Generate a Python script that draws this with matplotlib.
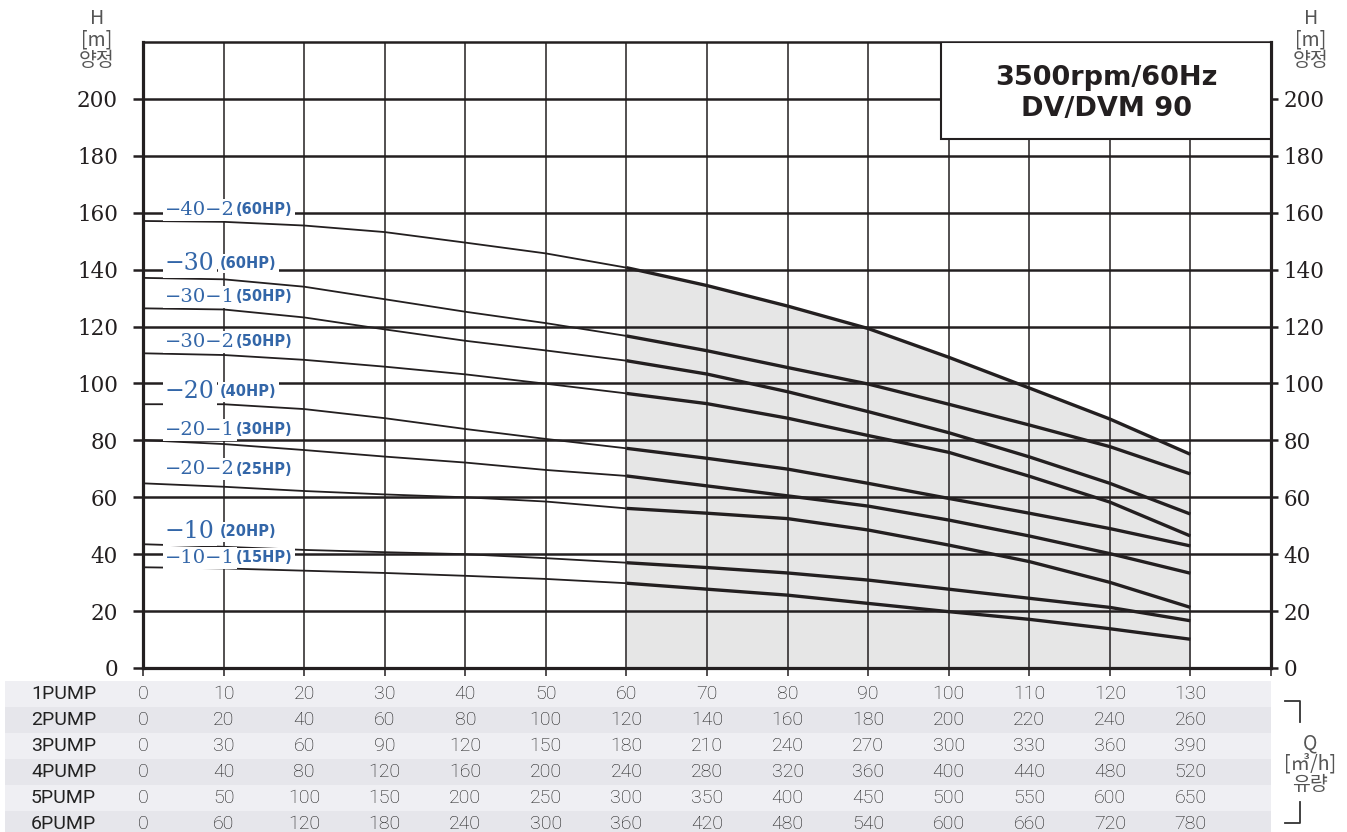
import matplotlib.pyplot as plt
import matplotlib.transforms as mtransforms
from matplotlib.patches import Rectangle
from matplotlib.lines import Line2D

# flow Q [m3/h] for one pump
q = [0, 10, 20, 30, 40, 50, 60, 70, 80, 90, 100, 110, 120, 130]

# head H [m] for each impeller set
h_40_2 = [157.1, 156.8, 155.5, 153.2, 149.5, 145.7, 140.7, 134.4, 127.2, 119.3, 109.2, 98.4, 87.5, 75.1]
h_30 = [137.1, 136.6, 134.0, 129.6, 125.2, 121.2, 116.7, 111.5, 105.6, 99.8, 92.7, 85.4, 77.8, 68.2]
h_30_1 = [126.4, 126.0, 123.2, 119.0, 115.0, 111.6, 108.0, 103.3, 97.1, 90.1, 82.7, 74.2, 64.9, 54.1]
h_30_2 = [110.6, 110.0, 108.3, 105.9, 103.2, 99.9, 96.5, 92.9, 87.8, 81.7, 75.8, 67.4, 58.3, 46.4]
h_20 = [92.7, 92.7, 91.0, 87.8, 84.0, 80.5, 77.2, 73.7, 69.9, 64.9, 59.6, 54.4, 49.0, 42.9]
h_20_1 = [80.1, 78.7, 76.6, 74.3, 72.2, 69.6, 67.5, 64.0, 60.5, 56.9, 52.0, 46.4, 40.2, 33.3]
h_20_2 = [64.9, 63.7, 62.2, 61.0, 60.0, 58.5, 56.1, 54.4, 52.5, 48.5, 43.2, 37.4, 30.1, 21.3]
h_10 = [43.5, 42.6, 41.5, 40.7, 40.0, 38.6, 37.0, 35.3, 33.4, 30.9, 27.7, 24.5, 21.3, 16.6]
h_10_1 = [35.4, 35.0, 34.2, 33.4, 32.4, 31.3, 29.8, 27.7, 25.6, 22.7, 19.8, 17.1, 13.8, 10.1]

curves = [h_40_2, h_30, h_30_1, h_30_2, h_20, h_20_1, h_20_2, h_10, h_10_1]
models = ['−40−2', '−30', '−30−1', '−30−2', '−20', '−20−1', '−20−2', '−10', '−10−1']
power = ['(60HP)', '(60HP)', '(50HP)', '(50HP)', '(40HP)', '(30HP)', '(25HP)', '(20HP)', '(15HP)']
label_y = [161.0, 142.0, 130.4, 114.6, 97.0, 83.7, 69.9, 47.8, 38.7]

pumps = ['1PUMP', '2PUMP', '3PUMP', '4PUMP', '5PUMP', '6PUMP']
q_ticks = [0, 10, 20, 30, 40, 50, 60, 70, 80, 90, 100, 110, 120, 130]
h_ticks = [0, 20, 40, 60, 80, 100, 120, 140, 160, 180, 200]

ink = '#231f20'
blue = '#3366a8'
cjk = ['Noto Sans CJK KR', 'DejaVu Sans']

fig = plt.figure(figsize=(13.47, 8.32), dpi=100)
W, H = 1347, 832
ax = fig.add_axes([143 / W, 1 - 668 / H, (1271 - 143) / W, (668 - 42) / H])
ax.set_xlim(0, 140)
ax.set_ylim(0, 220)

# operating range shading
ax.fill_between(q[6:], 0, h_40_2[6:], color='#e6e6e6', lw=0, zorder=1)

ax.set_xticks(q_ticks + [140])
ax.set_yticks(h_ticks)
ax.set_xticklabels([])
ax.xaxis.grid(True, color=ink, lw=1.1)
ax.yaxis.grid(True, color=ink, lw=1.8)
ax.set_axisbelow(False)
ax.tick_params(axis='x', direction='out', length=6, width=1.1, color=ink)
ax.tick_params(axis='y', direction='out', length=7, width=1.8, color=ink, pad=11,
               labelsize=15.5, labelcolor=ink)
for lab in ax.get_yticklabels():
    lab.set_family('DejaVu Serif')
for side in ['left', 'right', 'bottom']:
    ax.spines[side].set_linewidth(2.3)
    ax.spines[side].set_color(ink)
ax.spines['top'].set_linewidth(1.8)
ax.spines['top'].set_color(ink)

ax2 = ax.twinx()
ax2.set_ylim(0, 220)
ax2.set_yticks(h_ticks)
ax2.tick_params(axis='y', direction='out', length=5, width=1.8, color=ink, pad=4,
                labelsize=15.5, labelcolor=ink)
for lab in ax2.get_yticklabels():
    lab.set_family('DejaVu Serif')
for sp in ax2.spines.values():
    sp.set_visible(False)

# pump curves: thin outside the recommended range, thick inside it
for h in curves:
    ax.plot(q[:7], h[:7], color=ink, lw=1.3, zorder=3, solid_capstyle='butt')
    ax.plot(q[6:], h[6:], color=ink, lw=2.4, zorder=3, solid_capstyle='butt')

for name, hp, y in zip(models, power, label_y):
    big = len(name) == 3
    t = ax.text(2.7, y, name, family='DejaVu Serif', fontsize=17 if big else 14,
                color=blue, ha='left', va='center', zorder=5,
                bbox=dict(fc='white', ec='none', pad=1.5))
    ax.annotate(hp, xy=(1, 0.5), xycoords=t, xytext=(4 if big else 1, 0),
                textcoords='offset points', ha='left', va='center',
                fontsize=10.5, fontweight='bold', color=blue, zorder=5,
                bbox=dict(fc='white', ec='none', pad=1.5))

# model box
ax.add_patch(Rectangle((99.1, 186.0), 40.9, 34.0, fc='white', ec=ink, lw=1.5, zorder=4))
ax.text(119.6, 207.5, '3500rpm/60Hz', ha='center', va='center', fontsize=19.5,
        fontweight='bold', color=ink, zorder=6)
ax.text(119.6, 196.4, 'DV/DVM 90', ha='center', va='center', fontsize=19.5,
        fontweight='bold', color=ink, zorder=6)

# axis titles
for xp in (97, 1311):
    for txt, yp in zip(['H', '[m]', '양정'], [18, 40, 61]):
        fig.text(xp / W, 1 - yp / H, txt, ha='center', va='center', fontsize=14,
                 family=cjk, color='#555555')

# flow table for 1..6 pumps in parallel
tr = mtransforms.blended_transform_factory(ax.transData, fig.transFigure)
band = ['#efeff3', '#e6e6eb']
for i, name in enumerate(pumps):
    yc = 694 + 26 * i
    fig.add_artist(Rectangle((5 / W, 1 - (yc + 13) / H), 1266 / W, 26 / H,
                             transform=fig.transFigure, fc=band[i % 2], ec='none', zorder=0))
    fig.text(31 / W, 1 - yc / H, name, ha='left', va='center', fontsize=14,
             family='Roboto', color='#222222')
    for qt in q_ticks:
        fig.text(qt, 1 - yc / H, str(qt * (i + 1)), transform=tr, ha='center',
                 va='center', fontsize=14, family='Roboto', fontweight='light',
                 color='#1a1a1a')

# bracket around the flow axis title
bk = dict(color='#333333', lw=1.3, transform=fig.transFigure)
fig.add_artist(Line2D([1285 / W, 1300 / W, 1300 / W],
                      [1 - 701 / H, 1 - 701 / H, 1 - 722 / H], **bk))
fig.add_artist(Line2D([1300 / W, 1300 / W, 1285 / W],
                      [1 - 802 / H, 1 - 823 / H, 1 - 823 / H], **bk))
for txt, yp in zip(['Q', '[㎥/h]', '유량'], [743, 764, 785]):
    fig.text(1310 / W, 1 - yp / H, txt, ha='center', va='center', fontsize=14,
             family=cjk, color='#555555')

fig.savefig('out.png', dpi=100)
